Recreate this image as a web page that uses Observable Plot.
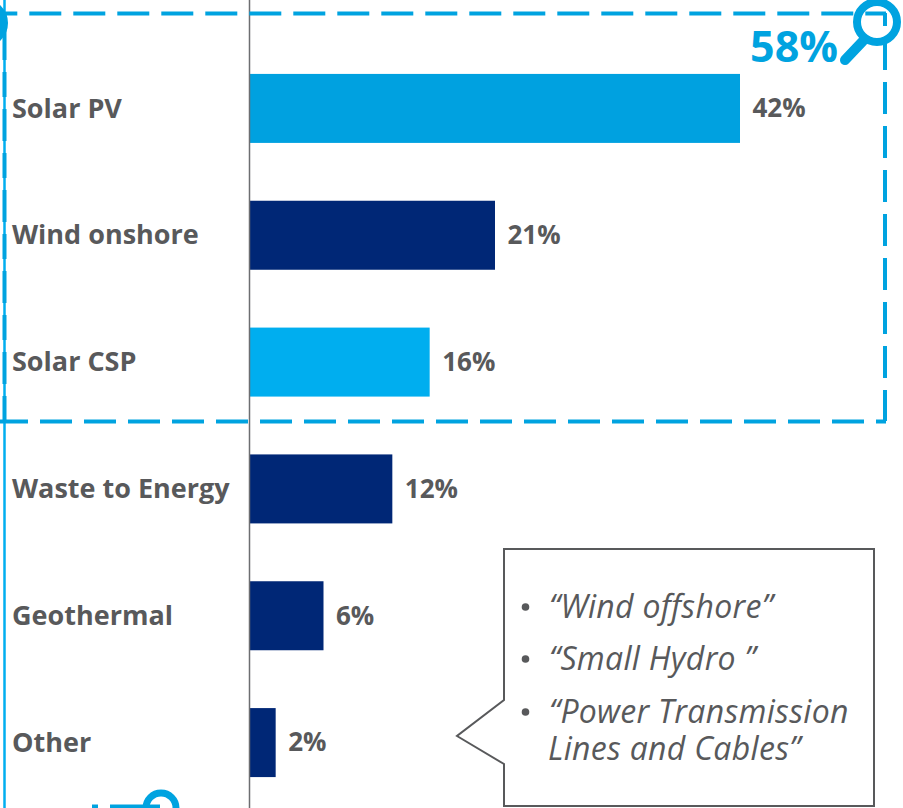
<!DOCTYPE html>
<html><head><meta charset="utf-8">
<style>html,body{margin:0;padding:0;background:#fff;overflow:hidden}svg{display:block}</style>
<script src="https://cdn.jsdelivr.net/npm/d3@7"></script>
<script src="https://cdn.jsdelivr.net/npm/@observablehq/plot@0.6"></script>
</head><body><div id="chart"></div>
<script>
const categories = ["Solar PV","Wind onshore","Solar CSP","Waste to Energy","Geothermal","Other"];
const barLengths = [42,21,15.4,12.2,6.3,2.2];
const valueLabels = ["42%","21%","16%","12%","6%","2%"];
const barColors = ["#00A1E0","#002776","#00AEEF","#002776","#002776","#002776"];
const calloutLines = ["“Wind offshore”","“Small Hydro ”","“Power Transmission","Lines and Cables”"];
const highlightLabel = "58%";

const rows = categories.map((c,i)=>({c,v:barLengths[i],t:valueLabels[i],f:barColors[i]}));
const FONT = "'Open Sans', sans-serif";
const GREY = "#58595B", BLUE = "#00A3E0";

function annotations(){
  const g = d3.create("svg:g");
  const ln = (x1,y1,x2,y2,o={}) => g.append("line").attr("x1",x1).attr("y1",y1).attr("x2",x2).attr("y2",y2)
     .attr("stroke",o.c||BLUE).attr("stroke-width",o.w||4).attr("stroke-dasharray",o.d||null).attr("stroke-dashoffset",o.o||0).attr("stroke-linecap",o.cap||"butt");
  ln(4.5,0,4.5,808,{w:2.5,c:"#00AEEF"});
  ln(-14.7,13.5,886,13.5,{d:"32 12"});
  ln(885,13,885,421,{d:"32 12",o:-25});
  ln(-8,421.5,886,421.5,{d:"32 12",o:-4});
  ln(4.5,421,4.5,13,{d:"25 12 32 12",w:4});
  g.append("circle").attr("cx",877).attr("cy",22).attr("r",20).attr("fill","none").attr("stroke",BLUE).attr("stroke-width",8);
  ln(863,41,845,60,{w:10,cap:"round"});
  g.append("circle").attr("cx",-16).attr("cy",23).attr("r",20).attr("fill","none").attr("stroke",BLUE).attr("stroke-width",8);
  ln(92,806.5,98,806.5,{w:4});
  ln(110,806.5,160,806.5,{w:4});
  g.append("circle").attr("cx",161).attr("cy",808).attr("r",15).attr("fill","none").attr("stroke",BLUE).attr("stroke-width",7);
  g.append("text").attr("x",838).attr("y",62).attr("text-anchor","end").attr("fill",BLUE)
    .attr("font-family",FONT).attr("font-weight",700).attr("font-size",43).text(highlightLabel);
  g.append("path").attr("d","M504 549H874V806H504V764L457 736L504 700Z").attr("fill","#fff").attr("stroke",GREY).attr("stroke-width",2);
  const ys=[618,670,723,760];
  calloutLines.forEach((t,i)=>{
    g.append("text").attr("x",i==3?548:549).attr("y",ys[i]).attr("text-anchor","start").attr("fill",GREY).attr("font-family",FONT)
      .attr("font-style","italic").attr("font-size",32).attr("letter-spacing",0.3).text(t);
    if(i<3) g.append("circle").attr("cx",525.5).attr("cy",ys[i]-11).attr("r",3.8).attr("fill",GREY);
  });
  return g.node();
}

const plot = Plot.plot({
  width:903,height:808,margin:0,
  style:{background:"#fff",fontFamily:FONT},
  x:{domain:[0,42],range:[250,740],axis:null},
  y:{domain:categories,range:[45,806],paddingInner:0.456,paddingOuter:0.228,align:0.5,round:false,axis:null},
  marks:[
    Plot.barX(rows,{x:"v",y:"c",fill:"f"}),
    Plot.ruleX([0],{stroke:"#6D6E71",strokeWidth:1.5,dx:-1}),
    annotations,
    Plot.axisY({anchor:"left",tickSize:0,tickPadding:0,textAnchor:"start",dx:11.5,label:null,fontSize:27,fontWeight:700,fill:GREY}),
    Plot.text(rows,{x:"v",y:"c",text:"t",dx:12,textAnchor:"start",fontSize:26,fontWeight:700,fill:GREY})
  ]
});
document.getElementById("chart").append(plot);
</script></body></html>
